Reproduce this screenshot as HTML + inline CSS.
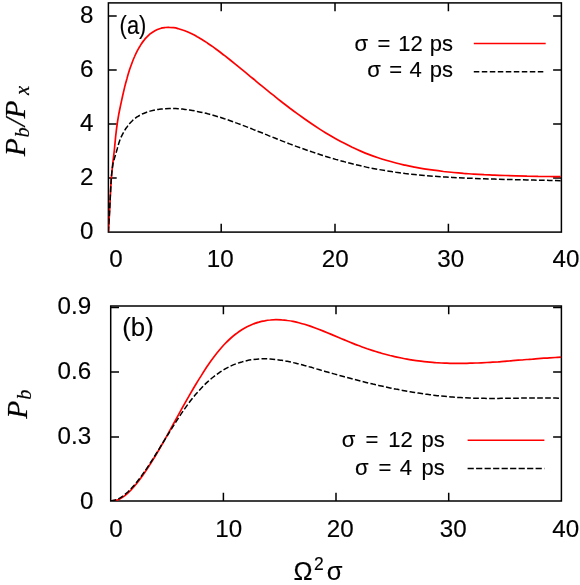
<!DOCTYPE html>
<html><head><meta charset="utf-8"><title>Chart</title>
<style>html,body{margin:0;padding:0;background:#fff}svg{display:block}</style></head>
<body>
<svg width="580" height="585" viewBox="0 0 580 585">
<rect width="580" height="585" fill="#fff"/>
<defs><clipPath id="ca"><rect x="108.4" y="2.9" width="453.0" height="229.2"/></clipPath><clipPath id="cb"><rect x="110.7" y="306.0" width="450.7" height="195.0"/></clipPath></defs>
<rect x="108.4" y="2.9" width="453.0" height="229.2" fill="none" stroke="#000" stroke-width="1.5"/>
<path d="M221.2 232.1v-8.3M221.2 2.9v8.3M335.0 232.1v-8.3M335.0 2.9v8.3M448.4 232.1v-8.3M448.4 2.9v8.3M108.4 16.0h8.3M561.4 16.0h-8.3M108.4 69.9h8.3M561.4 69.9h-8.3M108.4 124.1h8.3M561.4 124.1h-8.3M108.4 177.9h8.3M561.4 177.9h-8.3" stroke="#000" stroke-width="1.5" fill="none"/>

<rect x="110.7" y="306.0" width="450.7" height="195.0" fill="none" stroke="#000" stroke-width="1.5"/>
<path d="M223.4 501.0v-8.3M223.4 306.0v8.3M336.0 501.0v-8.3M336.0 306.0v8.3M448.7 501.0v-8.3M448.7 306.0v8.3M110.7 307.6h8.3M561.4 307.6h-8.3M110.7 372.0h8.3M561.4 372.0h-8.3M110.7 436.9h8.3M561.4 436.9h-8.3" stroke="#000" stroke-width="1.5" fill="none"/>

<path clip-path="url(#ca)" d="M108.4 232.1C108.4 231.7 108.4 230.6 108.5 229.6C108.5 228.6 108.6 227.4 108.7 225.8C108.8 224.2 108.9 222.4 109.1 219.9C109.2 217.5 109.4 214.7 109.6 211.0C109.8 207.4 110.0 202.9 110.2 198.3C110.5 193.7 110.7 187.8 111.0 183.2C111.3 178.7 111.6 174.6 112.0 171.0C112.3 167.3 112.7 164.8 113.0 161.4C113.4 158.0 113.8 154.5 114.3 150.5C114.7 146.4 115.2 141.3 115.6 136.9C116.1 132.5 116.6 127.8 117.2 124.0C117.7 120.2 118.3 117.2 118.8 114.1C119.4 110.9 120.0 108.2 120.6 105.2C121.3 102.2 121.9 99.0 122.6 96.0C123.3 92.9 124.0 89.9 124.7 86.9C125.4 84.0 126.2 81.1 127.0 78.4C127.7 75.7 128.5 73.0 129.3 70.5C130.2 67.9 131.0 65.5 131.9 63.2C132.8 60.8 133.6 58.6 134.6 56.5C135.5 54.4 136.4 52.5 137.4 50.6C138.4 48.7 139.3 47.0 140.4 45.4C141.4 43.8 142.4 42.3 143.5 40.9C144.5 39.5 145.6 38.2 146.7 37.1C147.8 35.9 149.0 34.9 150.1 33.9C151.3 33.0 152.5 32.1 153.7 31.4C154.9 30.7 156.1 30.1 157.4 29.5C158.6 29.0 159.9 28.6 161.2 28.2C162.5 27.9 163.9 27.7 165.2 27.5C166.6 27.4 167.9 27.3 169.3 27.4C170.8 27.4 172.2 27.5 173.6 27.7C175.1 27.9 176.5 28.2 178.0 28.6C179.5 29.0 181.1 29.4 182.6 30.0C184.2 30.5 185.7 31.1 187.3 31.8C188.9 32.5 190.5 33.2 192.2 34.0C193.8 34.8 195.5 35.7 197.2 36.7C198.9 37.6 200.6 38.7 202.3 39.7C204.1 40.8 205.8 42.0 207.6 43.2C209.4 44.4 211.2 45.6 213.1 46.9C214.9 48.2 216.7 49.6 218.6 51.0C220.5 52.4 222.4 53.9 224.4 55.4C226.3 56.9 228.2 58.4 230.2 60.0C232.2 61.6 234.2 63.2 236.2 64.8C238.3 66.5 240.3 68.2 242.4 69.9C244.5 71.6 246.6 73.3 248.7 75.1C250.8 76.9 253.0 78.6 255.2 80.4C257.3 82.2 259.5 84.1 261.8 85.9C264.0 87.7 266.2 89.5 268.5 91.4C270.8 93.2 273.1 95.1 275.4 96.9C277.7 98.8 280.0 100.6 282.4 102.5C284.8 104.3 287.2 106.1 289.6 108.0C292.0 109.8 294.4 111.6 296.9 113.4C299.4 115.2 301.9 117.0 304.4 118.8C306.9 120.6 309.4 122.3 312.0 124.0C314.5 125.7 317.1 127.4 319.7 129.1C322.3 130.8 325.0 132.4 327.6 134.0C330.3 135.6 333.0 137.2 335.7 138.7C338.4 140.2 341.1 141.7 343.9 143.1C346.6 144.5 349.4 145.9 352.2 147.3C355.0 148.6 357.8 149.9 360.7 151.1C363.5 152.3 366.4 153.5 369.3 154.6C372.2 155.7 375.1 156.7 378.1 157.7C381.0 158.7 384.0 159.6 387.0 160.5C390.0 161.4 393.0 162.2 396.0 163.0C399.1 163.8 402.2 164.5 405.2 165.2C408.3 165.9 411.5 166.5 414.6 167.1C417.7 167.7 420.9 168.3 424.1 168.8C427.3 169.3 430.5 169.8 433.7 170.2C437.0 170.7 440.2 171.1 443.5 171.5C446.8 171.8 450.1 172.2 453.4 172.5C456.8 172.8 460.1 173.1 463.5 173.4C466.9 173.6 470.3 173.9 473.7 174.1C477.2 174.3 480.6 174.5 484.1 174.7C487.6 174.8 491.1 175.0 494.6 175.1C498.1 175.3 501.7 175.4 505.3 175.5C508.8 175.6 512.4 175.7 516.1 175.8C519.7 175.9 523.3 176.0 527.0 176.1C530.7 176.1 534.4 176.2 538.1 176.3C541.8 176.3 545.6 176.4 549.3 176.5C553.1 176.6 558.8 176.7 560.7 176.7" fill="none" stroke="#f00" stroke-width="1.7"/>
<path clip-path="url(#ca)" d="M108.4 232.1C108.4 231.7 108.4 230.8 108.5 229.7C108.5 228.7 108.6 227.6 108.7 226.0C108.8 224.4 108.9 222.5 109.1 220.0C109.2 217.5 109.4 214.7 109.6 211.0C109.8 207.4 110.0 202.8 110.2 198.2C110.5 193.5 110.7 187.6 111.0 183.0C111.3 178.5 111.6 174.3 112.0 171.0C112.3 167.8 112.7 165.7 113.0 163.7C113.4 161.6 113.8 160.4 114.3 158.9C114.7 157.3 115.2 156.1 115.6 154.4C116.1 152.7 116.6 150.8 117.2 148.9C117.7 147.0 118.3 144.9 118.8 143.2C119.4 141.4 120.0 139.8 120.6 138.2C121.3 136.7 121.9 135.4 122.6 134.1C123.3 132.8 124.0 131.6 124.7 130.4C125.4 129.2 126.2 128.0 127.0 127.0C127.7 125.9 128.5 124.8 129.3 123.9C130.2 122.9 131.0 122.0 131.9 121.2C132.8 120.3 133.6 119.5 134.6 118.8C135.5 118.1 136.4 117.4 137.4 116.7C138.4 116.1 139.3 115.5 140.4 115.0C141.4 114.4 142.4 113.9 143.5 113.5C144.5 113.0 145.6 112.6 146.7 112.2C147.8 111.8 149.0 111.5 150.1 111.1C151.3 110.8 152.5 110.5 153.7 110.2C154.9 110.0 156.1 109.7 157.4 109.5C158.6 109.3 159.9 109.2 161.2 109.0C162.5 108.9 163.9 108.8 165.2 108.7C166.6 108.6 167.9 108.5 169.3 108.5C170.8 108.5 172.2 108.5 173.6 108.5C175.1 108.6 176.5 108.6 178.0 108.7C179.5 108.8 181.1 109.0 182.6 109.1C184.2 109.3 185.7 109.5 187.3 109.7C188.9 109.9 190.5 110.2 192.2 110.4C193.8 110.7 195.5 111.0 197.2 111.4C198.9 111.7 200.6 112.1 202.3 112.5C204.1 112.9 205.8 113.3 207.6 113.8C209.4 114.2 211.2 114.7 213.1 115.2C214.9 115.7 216.7 116.3 218.6 116.9C220.5 117.4 222.4 118.0 224.4 118.7C226.3 119.3 228.2 120.0 230.2 120.7C232.2 121.4 234.2 122.1 236.2 122.9C238.3 123.6 240.3 124.4 242.4 125.2C244.5 126.0 246.6 126.8 248.7 127.6C250.8 128.5 253.0 129.3 255.2 130.2C257.3 131.1 259.5 132.0 261.8 132.8C264.0 133.7 266.2 134.7 268.5 135.6C270.8 136.5 273.1 137.4 275.4 138.3C277.7 139.2 280.0 140.2 282.4 141.1C284.8 142.0 287.2 142.9 289.6 143.9C292.0 144.8 294.4 145.7 296.9 146.6C299.4 147.5 301.9 148.4 304.4 149.3C306.9 150.2 309.4 151.1 312.0 151.9C314.5 152.8 317.1 153.7 319.7 154.5C322.3 155.3 325.0 156.2 327.6 157.0C330.3 157.8 333.0 158.6 335.7 159.4C338.4 160.1 341.1 160.9 343.9 161.6C346.6 162.4 349.4 163.1 352.2 163.8C355.0 164.5 357.8 165.2 360.7 165.8C363.5 166.4 366.4 167.1 369.3 167.7C372.2 168.3 375.1 168.8 378.1 169.4C381.0 169.9 384.0 170.4 387.0 170.9C390.0 171.4 393.0 171.8 396.0 172.3C399.1 172.7 402.2 173.1 405.2 173.5C408.3 173.8 411.5 174.2 414.6 174.5C417.7 174.8 420.9 175.2 424.1 175.4C427.3 175.7 430.5 176.0 433.7 176.2C437.0 176.5 440.2 176.7 443.5 176.9C446.8 177.1 450.1 177.3 453.4 177.5C456.8 177.7 460.1 177.9 463.5 178.0C466.9 178.2 470.3 178.3 473.7 178.4C477.2 178.6 480.6 178.7 484.1 178.8C487.6 178.9 491.1 179.0 494.6 179.1C498.1 179.2 501.7 179.3 505.3 179.4C508.8 179.5 512.4 179.6 516.1 179.7C519.7 179.7 523.3 179.8 527.0 179.9C530.7 180.0 534.4 180.1 538.1 180.2C541.8 180.2 545.6 180.3 549.3 180.4C553.1 180.5 558.8 180.7 560.7 180.7" fill="none" stroke="#000" stroke-width="1.5" stroke-dasharray="5.7 2.3"/>
<path clip-path="url(#cb)" d="M110.7 501.0C111.7 500.9 114.5 500.9 116.4 500.3C118.3 499.8 120.2 498.8 122.1 497.6C124.0 496.4 125.9 494.9 127.8 493.1C129.7 491.4 131.6 489.4 133.5 487.2C135.4 485.1 137.3 482.7 139.2 480.2C141.1 477.7 143.0 475.0 144.9 472.2C146.8 469.4 148.7 466.5 150.6 463.5C152.5 460.5 154.4 457.4 156.3 454.2C158.2 451.1 160.1 447.8 162.0 444.5C163.9 441.2 165.8 437.8 167.7 434.4C169.6 431.0 171.5 427.5 173.4 424.0C175.3 420.6 177.2 417.1 179.1 413.6C181.0 410.2 182.9 406.7 184.8 403.3C186.7 400.0 188.6 396.6 190.5 393.3C192.4 390.1 194.3 386.9 196.2 383.7C198.1 380.6 200.0 377.5 201.9 374.6C203.8 371.6 205.7 368.6 207.6 365.8C209.5 363.0 211.4 360.3 213.3 357.8C215.2 355.2 217.1 352.7 219.0 350.5C220.9 348.2 222.8 346.0 224.7 344.0C226.6 342.1 228.5 340.2 230.4 338.5C232.3 336.8 234.2 335.2 236.1 333.8C238.0 332.3 239.9 331.0 241.8 329.8C243.7 328.6 245.6 327.5 247.5 326.6C249.4 325.6 251.3 324.8 253.2 324.0C255.1 323.3 257.0 322.6 258.9 322.1C260.8 321.5 262.7 321.1 264.6 320.8C266.5 320.4 268.4 320.1 270.3 320.0C272.2 319.8 274.1 319.7 276.0 319.7C277.9 319.7 279.8 319.7 281.7 319.9C283.6 320.0 285.5 320.2 287.4 320.5C289.3 320.7 291.2 321.0 293.1 321.4C295.0 321.8 296.9 322.2 298.8 322.7C300.7 323.2 302.6 323.7 304.5 324.3C306.4 324.9 308.3 325.5 310.2 326.1C312.1 326.8 314.0 327.5 315.9 328.2C317.8 328.9 319.7 329.6 321.6 330.4C323.5 331.1 325.4 331.9 327.3 332.7C329.2 333.5 331.1 334.3 333.0 335.1C334.9 335.9 336.8 336.7 338.7 337.5C340.6 338.3 342.5 339.1 344.4 339.9C346.3 340.7 348.2 341.5 350.1 342.3C352.0 343.1 353.9 343.9 355.8 344.6C357.7 345.3 359.6 346.1 361.5 346.7C363.4 347.4 365.3 348.1 367.2 348.8C369.1 349.4 371.0 350.0 372.9 350.6C374.8 351.2 376.7 351.8 378.6 352.4C380.5 352.9 382.4 353.5 384.3 354.0C386.2 354.5 388.1 355.0 390.0 355.5C391.9 355.9 393.8 356.4 395.7 356.8C397.6 357.2 399.5 357.6 401.4 358.0C403.3 358.4 405.2 358.8 407.1 359.1C409.0 359.5 410.9 359.8 412.8 360.1C414.7 360.4 416.6 360.7 418.5 360.9C420.4 361.2 422.3 361.4 424.2 361.6C426.1 361.8 428.0 362.0 429.9 362.2C431.8 362.4 433.7 362.5 435.6 362.7C437.5 362.8 439.4 362.9 441.3 363.0C443.2 363.1 445.1 363.2 447.0 363.2C448.9 363.3 450.8 363.3 452.7 363.4C454.6 363.4 456.5 363.4 458.4 363.4C460.3 363.4 462.2 363.4 464.1 363.4C466.0 363.3 467.9 363.3 469.8 363.2C471.7 363.2 473.6 363.1 475.5 363.0C477.4 363.0 479.3 362.9 481.2 362.8C483.1 362.7 485.0 362.6 486.9 362.5C488.8 362.4 490.7 362.3 492.6 362.1C494.5 362.0 496.4 361.9 498.3 361.8C500.2 361.6 502.1 361.5 504.0 361.3C505.9 361.2 507.8 361.0 509.7 360.9C511.6 360.7 513.5 360.6 515.4 360.4C517.3 360.3 519.2 360.1 521.1 360.0C523.0 359.8 524.9 359.7 526.8 359.5C528.7 359.4 530.6 359.2 532.5 359.1C534.4 358.9 536.3 358.8 538.2 358.6C540.1 358.5 542.0 358.3 543.9 358.2C545.8 358.1 547.7 358.0 549.6 357.8C551.5 357.7 553.4 357.6 555.3 357.5C557.2 357.4 560.0 357.3 561.0 357.2" fill="none" stroke="#f00" stroke-width="1.7"/>
<path clip-path="url(#cb)" d="M110.7 501.0C111.7 500.8 114.5 500.4 116.4 499.7C118.3 498.9 120.2 497.9 122.1 496.6C124.0 495.3 125.9 493.7 127.8 492.0C129.7 490.2 131.6 488.2 133.5 486.0C135.4 483.9 137.3 481.5 139.2 479.0C141.1 476.5 143.0 473.8 144.9 471.1C146.8 468.3 148.7 465.4 150.6 462.5C152.5 459.6 154.4 456.5 156.3 453.5C158.2 450.4 160.1 447.3 162.0 444.2C163.9 441.1 165.8 438.0 167.7 435.0C169.6 431.9 171.5 428.8 173.4 425.8C175.3 422.8 177.2 419.9 179.1 417.0C181.0 414.1 182.9 411.3 184.8 408.6C186.7 405.9 188.6 403.3 190.5 400.8C192.4 398.4 194.3 396.0 196.2 393.8C198.1 391.6 200.0 389.5 201.9 387.5C203.8 385.5 205.7 383.6 207.6 381.9C209.5 380.2 211.4 378.5 213.3 377.0C215.2 375.5 217.1 374.1 219.0 372.8C220.9 371.5 222.8 370.3 224.7 369.2C226.6 368.1 228.5 367.1 230.4 366.2C232.3 365.3 234.2 364.5 236.1 363.8C238.0 363.1 239.9 362.4 241.8 361.9C243.7 361.3 245.6 360.9 247.5 360.5C249.4 360.1 251.3 359.8 253.2 359.5C255.1 359.3 257.0 359.1 258.9 359.0C260.8 358.9 262.7 358.8 264.6 358.8C266.5 358.8 268.4 358.9 270.3 359.0C272.2 359.1 274.1 359.3 276.0 359.5C277.9 359.8 279.8 360.0 281.7 360.3C283.6 360.6 285.5 361.0 287.4 361.3C289.3 361.7 291.2 362.1 293.1 362.6C295.0 363.0 296.9 363.5 298.8 363.9C300.7 364.4 302.6 364.9 304.5 365.5C306.4 366.0 308.3 366.5 310.2 367.1C312.1 367.6 314.0 368.2 315.9 368.7C317.8 369.3 319.7 369.8 321.6 370.4C323.5 370.9 325.4 371.5 327.3 372.0C329.2 372.6 331.1 373.1 333.0 373.6C334.9 374.2 336.8 374.7 338.7 375.2C340.6 375.8 342.5 376.3 344.4 376.8C346.3 377.3 348.2 377.8 350.1 378.3C352.0 378.8 353.9 379.3 355.8 379.8C357.7 380.3 359.6 380.8 361.5 381.3C363.4 381.8 365.3 382.2 367.2 382.7C369.1 383.2 371.0 383.6 372.9 384.1C374.8 384.5 376.7 385.0 378.6 385.4C380.5 385.8 382.4 386.3 384.3 386.7C386.2 387.1 388.1 387.5 390.0 387.9C391.9 388.3 393.8 388.7 395.7 389.1C397.6 389.4 399.5 389.8 401.4 390.2C403.3 390.5 405.2 390.9 407.1 391.2C409.0 391.5 410.9 391.9 412.8 392.2C414.7 392.5 416.6 392.8 418.5 393.1C420.4 393.4 422.3 393.7 424.2 394.0C426.1 394.2 428.0 394.5 429.9 394.7C431.8 395.0 433.7 395.2 435.6 395.4C437.5 395.7 439.4 395.9 441.3 396.1C443.2 396.3 445.1 396.5 447.0 396.6C448.9 396.8 450.8 397.0 452.7 397.1C454.6 397.3 456.5 397.4 458.4 397.5C460.3 397.6 462.2 397.7 464.1 397.8C466.0 397.9 467.9 398.0 469.8 398.0C471.7 398.1 473.6 398.2 475.5 398.2C477.4 398.3 479.3 398.3 481.2 398.3C483.1 398.3 485.0 398.4 486.9 398.4C488.8 398.4 490.7 398.4 492.6 398.4C494.5 398.4 496.4 398.4 498.3 398.4C500.2 398.4 502.1 398.3 504.0 398.3C505.9 398.3 507.8 398.3 509.7 398.3C511.6 398.2 513.5 398.2 515.4 398.2C517.3 398.2 519.2 398.1 521.1 398.1C523.0 398.1 524.9 398.1 526.8 398.1C528.7 398.0 530.6 398.0 532.5 398.0C534.4 398.0 536.3 398.0 538.2 398.0C540.1 398.0 542.0 398.0 543.9 398.0C545.8 398.0 547.7 398.0 549.6 398.0C551.5 398.1 553.4 398.1 555.3 398.1C557.2 398.2 560.0 398.3 561.0 398.3" fill="none" stroke="#000" stroke-width="1.5" stroke-dasharray="5.7 2.3"/>
<path d="M473.8 43.6H545.7" stroke="#f00" stroke-width="1.5"/>
<path d="M473.8 71.7H545.7" stroke="#000" stroke-width="1.5" stroke-dasharray="5.5 2.5"/>
<path d="M467.6 440.2H544.4" stroke="#f00" stroke-width="1.5"/>
<path d="M467.6 468.6H544.4" stroke="#000" stroke-width="1.5" stroke-dasharray="6.2 2.3"/>
<g opacity="0.999">
<text x="115.9" y="266.6" font-size="24.2" text-anchor="middle" font-family="Liberation Sans, sans-serif" fill="#000" stroke="#000" stroke-width="0.15" >0</text>
<text x="220.2" y="266.6" font-size="24.2" text-anchor="middle" font-family="Liberation Sans, sans-serif" fill="#000" stroke="#000" stroke-width="0.15" >10</text>
<text x="335.2" y="266.6" font-size="24.2" text-anchor="middle" font-family="Liberation Sans, sans-serif" fill="#000" stroke="#000" stroke-width="0.15" >20</text>
<text x="450.8" y="266.6" font-size="24.2" text-anchor="middle" font-family="Liberation Sans, sans-serif" fill="#000" stroke="#000" stroke-width="0.15" >30</text>
<text x="565.9" y="266.6" font-size="24.2" text-anchor="middle" font-family="Liberation Sans, sans-serif" fill="#000" stroke="#000" stroke-width="0.15" >40</text>
<text x="115.9" y="536.5" font-size="24.2" text-anchor="middle" font-family="Liberation Sans, sans-serif" fill="#000" stroke="#000" stroke-width="0.15" >0</text>
<text x="228.7" y="536.5" font-size="24.2" text-anchor="middle" font-family="Liberation Sans, sans-serif" fill="#000" stroke="#000" stroke-width="0.15" >10</text>
<text x="340.3" y="536.5" font-size="24.2" text-anchor="middle" font-family="Liberation Sans, sans-serif" fill="#000" stroke="#000" stroke-width="0.15" >20</text>
<text x="453.3" y="536.5" font-size="24.2" text-anchor="middle" font-family="Liberation Sans, sans-serif" fill="#000" stroke="#000" stroke-width="0.15" >30</text>
<text x="565.8" y="536.5" font-size="24.2" text-anchor="middle" font-family="Liberation Sans, sans-serif" fill="#000" stroke="#000" stroke-width="0.15" >40</text>
<text x="93.4" y="22.8" font-size="24.2" text-anchor="end" font-family="Liberation Sans, sans-serif" fill="#000" stroke="#000" stroke-width="0.15" >8</text>
<text x="93.4" y="76.89999999999999" font-size="24.2" text-anchor="end" font-family="Liberation Sans, sans-serif" fill="#000" stroke="#000" stroke-width="0.15" >6</text>
<text x="93.4" y="130.9" font-size="24.2" text-anchor="end" font-family="Liberation Sans, sans-serif" fill="#000" stroke="#000" stroke-width="0.15" >4</text>
<text x="93.4" y="184.9" font-size="24.2" text-anchor="end" font-family="Liberation Sans, sans-serif" fill="#000" stroke="#000" stroke-width="0.15" >2</text>
<text x="93.4" y="238.9" font-size="24.2" text-anchor="end" font-family="Liberation Sans, sans-serif" fill="#000" stroke="#000" stroke-width="0.15" >0</text>
<text x="91.2" y="314.2" font-size="24.2" text-anchor="end" font-family="Liberation Sans, sans-serif" fill="#000" stroke="#000" stroke-width="0.15" >0.9</text>
<text x="91.2" y="378.9" font-size="24.2" text-anchor="end" font-family="Liberation Sans, sans-serif" fill="#000" stroke="#000" stroke-width="0.15" >0.6</text>
<text x="91.2" y="443.7" font-size="24.2" text-anchor="end" font-family="Liberation Sans, sans-serif" fill="#000" stroke="#000" stroke-width="0.15" >0.3</text>
<text x="93.4" y="508.7" font-size="24.2" text-anchor="end" font-family="Liberation Sans, sans-serif" fill="#000" stroke="#000" stroke-width="0.15" >0</text>
<text transform="translate(119.6 33.5) scale(0.875 1)" font-size="25" text-anchor="start" font-family="Liberation Sans, sans-serif" fill="#000" stroke="#000" stroke-width="0.15">(a)</text>
<text transform="translate(122.2 336.1) scale(0.97 1)" font-size="26.6" text-anchor="start" font-family="Liberation Sans, sans-serif" fill="#000" stroke="#000" stroke-width="0.15">(b)</text>
<text x="361.3" y="50.6" font-size="22" text-anchor="middle" font-family="Liberation Sans, sans-serif" fill="#000" stroke="#000" stroke-width="0.15" >σ</text>
<text x="383.9" y="50.6" font-size="22" text-anchor="middle" font-family="Liberation Sans, sans-serif" fill="#000" stroke="#000" stroke-width="0.15" >=</text>
<text x="410.6" y="50.6" font-size="22" text-anchor="middle" font-family="Liberation Sans, sans-serif" fill="#000" stroke="#000" stroke-width="0.15" >12</text>
<text x="453.0" y="50.6" font-size="22" text-anchor="end" font-family="Liberation Sans, sans-serif" fill="#000" stroke="#000" stroke-width="0.15" >ps</text>
<text x="374.0" y="77.2" font-size="22" text-anchor="middle" font-family="Liberation Sans, sans-serif" fill="#000" stroke="#000" stroke-width="0.15" >σ</text>
<text x="395.8" y="77.2" font-size="22" text-anchor="middle" font-family="Liberation Sans, sans-serif" fill="#000" stroke="#000" stroke-width="0.15" >=</text>
<text x="415.7" y="77.2" font-size="22" text-anchor="middle" font-family="Liberation Sans, sans-serif" fill="#000" stroke="#000" stroke-width="0.15" >4</text>
<text x="453.0" y="77.2" font-size="22" text-anchor="end" font-family="Liberation Sans, sans-serif" fill="#000" stroke="#000" stroke-width="0.15" >ps</text>
<text x="348.6" y="446.9" font-size="22" text-anchor="middle" font-family="Liberation Sans, sans-serif" fill="#000" stroke="#000" stroke-width="0.15" >σ</text>
<text x="372.0" y="446.9" font-size="22" text-anchor="middle" font-family="Liberation Sans, sans-serif" fill="#000" stroke="#000" stroke-width="0.15" >=</text>
<text x="400.6" y="446.9" font-size="22" text-anchor="middle" font-family="Liberation Sans, sans-serif" fill="#000" stroke="#000" stroke-width="0.15" >12</text>
<text x="444.8" y="446.9" font-size="22" text-anchor="end" font-family="Liberation Sans, sans-serif" fill="#000" stroke="#000" stroke-width="0.15" >ps</text>
<text x="361.7" y="475.4" font-size="22" text-anchor="middle" font-family="Liberation Sans, sans-serif" fill="#000" stroke="#000" stroke-width="0.15" >σ</text>
<text x="385.0" y="475.4" font-size="22" text-anchor="middle" font-family="Liberation Sans, sans-serif" fill="#000" stroke="#000" stroke-width="0.15" >=</text>
<text x="405.8" y="475.4" font-size="22" text-anchor="middle" font-family="Liberation Sans, sans-serif" fill="#000" stroke="#000" stroke-width="0.15" >4</text>
<text x="444.8" y="475.4" font-size="22" text-anchor="end" font-family="Liberation Sans, sans-serif" fill="#000" stroke="#000" stroke-width="0.15" >ps</text>
<text x="303.1" y="580.3" font-size="25.5" text-anchor="middle" font-family="Liberation Sans, sans-serif" fill="#000" stroke="#000" stroke-width="0.15" >Ω</text>
<text x="318.8" y="569.5" font-size="17.5" text-anchor="middle" font-family="Liberation Sans, sans-serif" fill="#000" stroke="#000" stroke-width="0.15" >2</text>
<text x="334.5" y="580.3" font-size="25.5" text-anchor="middle" font-family="Liberation Sans, sans-serif" fill="#000" stroke="#000" stroke-width="0.15" >σ</text>
<text transform="translate(25.4 156.3) rotate(-90)" font-size="29.6" font-family="Liberation Serif, serif" font-style="italic" fill="#000" stroke="#000" stroke-width="0.2">P</text>
<text transform="translate(28.8 137.4) rotate(-90)" font-size="20.5" font-family="Liberation Serif, serif" font-style="italic" fill="#000" stroke="#000" stroke-width="0.2">b</text>
<text transform="translate(25.4 126.2) rotate(-90)" font-size="29.6" font-family="Liberation Serif, serif" font-style="italic" fill="#000" stroke="#000" stroke-width="0.2">/</text>
<text transform="translate(25.4 118.4) rotate(-90)" font-size="29.6" font-family="Liberation Serif, serif" font-style="italic" fill="#000" stroke="#000" stroke-width="0.2">P</text>
<text transform="translate(29.0 94.9) rotate(-90)" font-size="20.5" font-family="Liberation Serif, serif" font-style="italic" fill="#000" stroke="#000" stroke-width="0.2">x</text>
<text transform="translate(27.0 418.8) rotate(-90)" font-size="29.6" font-family="Liberation Serif, serif" font-style="italic" fill="#000" stroke="#000" stroke-width="0.2">P</text>
<text transform="translate(31.0 399.8) rotate(-90)" font-size="20.5" font-family="Liberation Serif, serif" font-style="italic" fill="#000" stroke="#000" stroke-width="0.2">b</text>
</g>
</svg>
</body></html>
